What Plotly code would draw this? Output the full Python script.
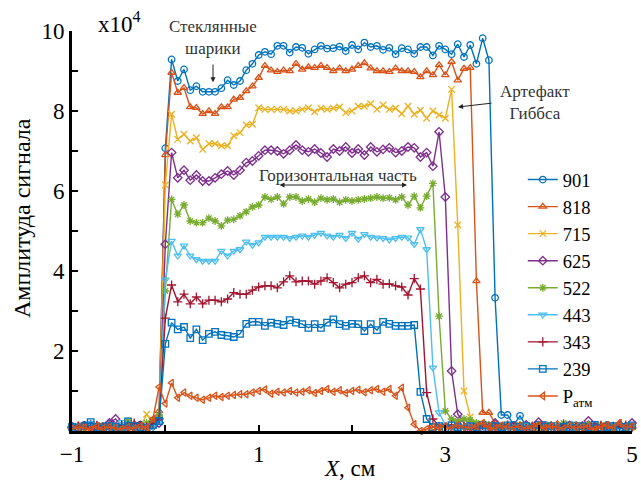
import plotly.graph_objects as go

# sample positions along X, cm (step 1/15 cm)
x_cm = [
    -1.000, -0.933, -0.867, -0.800, -0.733, -0.667, -0.600, -0.533, -0.467, -0.400, -0.333, -0.267, -0.200, -0.133, -0.067,
    0.000, 0.067, 0.133, 0.200, 0.267, 0.333, 0.400, 0.467, 0.533, 0.600, 0.667, 0.733, 0.800, 0.867, 0.933,
    1.000, 1.067, 1.133, 1.200, 1.267, 1.333, 1.400, 1.467, 1.533, 1.600, 1.667, 1.733, 1.800, 1.867, 1.933,
    2.000, 2.067, 2.133, 2.200, 2.267, 2.333, 2.400, 2.467, 2.533, 2.600, 2.667, 2.733, 2.800, 2.867, 2.933,
    3.000, 3.067, 3.133, 3.200, 3.267, 3.333, 3.400, 3.467, 3.533, 3.600, 3.667, 3.733, 3.800, 3.867, 3.933,
    4.000, 4.067, 4.133, 4.200, 4.267, 4.333, 4.400, 4.467, 4.533, 4.600, 4.667, 4.733, 4.800, 4.867, 4.933,
    5.000,
]

# signal amplitude, units of 1e4
s901 = [0.12, 0.08, 0.15, 0.1, 0.05, 0.12, 0.18, 0.1, 0.08, 0.14, 0.1, 0.16, 0.12, 0.2, 0.35,
        7.07,
        9.29, 8.75, 9.04, 8.52, 8.62, 8.48, 8.48, 8.48, 8.57, 8.77, 8.65, 8.75, 9.02, 9.18, 9.4, 9.48,
        9.42, 9.63, 9.63, 9.46, 9.6, 9.58, 9.43,
        9.54, 9.63, 9.56, 9.57, 9.61, 9.5, 9.65, 9.54, 9.71, 9.6, 9.63, 9.53, 9.58, 9.42, 9.57, 9.54,
        9.43, 9.6, 9.6, 9.39, 9.63, 9.54, 9.42, 9.67, 9.35, 9.65, 9.18, 9.82, 9.27,
        3.33, 0.4, 0.4, 0.15, 0.38,
        0.12, 0.08, 0.1, 0.15, 0.06, 0.12, 0.1, 0.08, 0.14, 0.1, 0.05, 0.12, 0.09, 0.15, 0.1, 0.07, 0.12, 0.1]
s818 = [0.1, 0.14, 0.08, 0.12, 0.06, 0.1, 0.15, 0.08, 0.12, 0.1, 0.18, 0.12, 0.15, 0.25, 0.5,
        6.9,
        8.96, 8.46, 8.58, 8.1, 8.08, 7.93, 8.0, 7.93, 8.1, 8.1, 8.29, 8.33, 8.5, 8.62, 8.83, 9.13,
        9.02, 8.98, 9.02, 9.0, 9.18, 9.04, 9.1,
        9.08, 9.13, 9.08, 9.0, 9.07, 9.0, 9.04, 9.13, 9.2, 9.07, 9.0, 9.0, 8.98, 9.07, 9.0, 9.0,
        8.98, 8.85, 9.0, 8.9, 9.15, 8.9, 9.23, 8.77, 9.06, 9.08,
        3.75, 0.46, 0.46, 0.2,
        0.1, 0.15, 0.08, 0.12, 0.1, 0.14, 0.06, 0.1, 0.12, 0.18, 0.08, 0.1, 0.14, 0.1, 0.06, 0.12,
        0.15, 0.08, 0.1, 0.2, 0.12, 0.08]
s715 = [0.08, 0.12, 0.1, 0.15, 0.1, 0.06, 0.12, 0.1, 0.14, 0.08, 0.12, 0.1, 0.42, 0.2, 0.3,
        6.15,
        7.92, 7.29, 7.42, 7.25, 7.33, 7.04, 7.18, 7.18, 7.13, 7.13, 7.38, 7.46, 7.65, 7.67, 8.08, 8.04,
        8.04, 8.04, 8.04, 8.0, 8.0, 8.04, 8.08,
        7.98, 8.07, 8.04, 8.07, 8.1, 7.96, 8.0, 8.12, 8.12, 8.18, 8.04, 8.15, 8.04, 8.07, 7.93, 8.12,
        7.92, 8.02, 7.82, 8.0, 7.9, 7.82, 8.54,
        5.15, 1.0, 0.35,
        0.12, 0.1, 0.15, 0.08, 0.12, 0.1, 0.06, 0.14, 0.1, 0.12, 0.08, 0.15, 0.1, 0.12, 0.06, 0.1,
        0.14, 0.08, 0.12, 0.1, 0.15, 0.08, 0.1, 0.12, 0.06, 0.1]
s625 = [0.1, 0.06, 0.12, 0.15, 0.1, 0.08, 0.2, 0.3, 0.12, 0.1, 0.08, 0.14, 0.1, 0.12, 0.2,
        4.67,
        6.96, 6.33, 6.52, 6.27, 6.4, 6.25, 6.25, 6.33, 6.42, 6.5, 6.4, 6.52, 6.71, 6.75, 6.88, 7.02,
        7.02, 7.0, 6.93, 7.02, 7.15,
        7.02, 6.98, 7.05, 6.95, 6.85, 7.05, 7.0, 7.1, 6.95, 7.05, 6.9, 7.1, 6.98,
        7.04, 7.08, 6.96, 7.0, 7.1, 7.08, 6.85, 6.96, 6.62, 7.48, 5.85, 1.5, 0.42,
        0.2, 0.1, 0.15, 0.08, 0.12, 0.2, 0.1, 0.06, 0.12, 0.1, 0.15, 0.08, 0.22, 0.1, 0.12, 0.06,
        0.1, 0.14, 0.08, 0.12, 0.25, 0.1, 0.06, 0.12, 0.1, 0.15, 0.08, 0.2]
s522 = [0.06, 0.1, 0.08, 0.12, 0.15, 0.1, 0.08, 0.12, 0.1, 0.25, 0.14, 0.1, 0.2, 0.28, 0.4,
        3.5,
        5.79, 5.42, 5.65, 5.25, 5.21, 5.21, 5.32, 5.25, 5.13, 5.27, 5.29, 5.38, 5.48, 5.6, 5.65, 5.85,
        5.79, 5.85, 5.68, 5.85, 5.85,
        5.75, 5.8, 5.72, 5.82, 5.78, 5.8, 5.72, 5.78, 5.75, 5.78, 5.8, 5.82, 5.85, 5.82, 5.83, 5.78, 5.85,
        5.65, 5.87, 5.58, 5.87, 6.19, 2.87, 0.5, 0.3,
        0.25, 0.3, 0.28, 0.2, 0.12, 0.15, 0.1, 0.08, 0.12, 0.1, 0.15, 0.06, 0.1, 0.12, 0.08, 0.14,
        0.1, 0.2, 0.12, 0.08, 0.1, 0.15, 0.06, 0.12, 0.1, 0.08, 0.14, 0.1, 0.12]
s443 = [0.1, 0.14, 0.08, 0.2, 0.12, 0.1, 0.06, 0.15, 0.22, 0.1, 0.12, 0.08, 0.14, 0.1, 0.25,
        3.78,
        4.75, 4.38, 4.63, 4.38, 4.29, 4.25, 4.25, 4.25, 4.5, 4.38, 4.5, 4.54, 4.73, 4.65, 4.71, 4.85,
        4.85, 4.85, 4.85, 4.82, 4.85,
        4.88, 4.85, 4.9, 4.95, 4.88, 4.85, 4.9, 4.82, 4.95, 4.8, 4.92, 4.85, 4.83, 4.82, 4.78, 4.82, 4.85,
        4.83, 4.67, 5.04, 4.54, 1.58, 0.46,
        0.15, 0.1, 0.12, 0.08, 0.14, 0.1, 0.06, 0.12, 0.1, 0.15, 0.08, 0.1, 0.12, 0.14, 0.06, 0.1,
        0.12, 0.08, 0.15, 0.1, 0.12, 0.06, 0.1, 0.14, 0.08, 0.12, 0.1, 0.15, 0.08, 0.12, 0.1]
s343 = [0.08, 0.12, 0.1, 0.06, 0.14, 0.1, 0.12, 0.08, 0.15, 0.1, 0.2, 0.12, 0.1, 0.18, 0.3,
        2.82,
        3.65, 3.23, 3.42, 3.18, 3.35, 3.18, 3.27, 3.27, 3.23, 3.3, 3.46, 3.42, 3.42, 3.52, 3.6, 3.63,
        3.63, 3.58, 3.73, 3.88, 3.73,
        3.75, 3.75, 3.67, 3.75, 3.83, 3.71, 3.58, 3.67, 3.71, 3.83, 3.88, 3.71, 3.79, 3.67, 3.68, 3.63,
        3.6, 3.4, 3.81, 3.55,
        0.96, 0.3,
        0.12, 0.1, 0.15, 0.08, 0.12, 0.1, 0.06, 0.14, 0.1, 0.12, 0.08, 0.15, 0.1, 0.12, 0.06, 0.1,
        0.14, 0.08, 0.12, 0.1, 0.15, 0.08, 0.1, 0.12, 0.06, 0.1, 0.14, 0.08, 0.12, 0.1, 0.15, 0.08]
s239 = [0.1, 0.08, 0.12, 0.22, 0.1, 0.06, 0.12, 0.1, 0.08, 0.24, 0.12, 0.1, 0.08, 0.15, 0.25,
        2.18,
        2.71, 2.54, 2.6, 2.32, 2.54, 2.27, 2.43, 2.48, 2.4, 2.38, 2.35, 2.43, 2.68, 2.73, 2.73, 2.63,
        2.71, 2.68, 2.65, 2.77, 2.71,
        2.67, 2.58, 2.67, 2.58, 2.71, 2.79, 2.67, 2.63, 2.68, 2.67, 2.5, 2.67, 2.52, 2.73, 2.68, 2.63,
        2.63, 2.63, 2.65,
        0.98, 0.3,
        0.1, 0.12, 0.08, 0.14, 0.1, 0.06, 0.12, 0.1, 0.15, 0.08, 0.12, 0.1, 0.14, 0.06, 0.1, 0.12,
        0.08, 0.15, 0.1, 0.12, 0.06, 0.1, 0.14, 0.08, 0.12, 0.1, 0.15, 0.08, 0.1, 0.12, 0.06, 0.1, 0.14]
s_atm = [0.05, 0.1, 0.08, 0.04, 0.12, 0.06, 0.1, 0.08, 0.05, 0.1, 0.06, 0.12, 0.08, 0.3, 1.1,
         0.69,
         1.2, 0.83, 0.96, 0.88, 0.83, 0.78, 0.83, 0.88, 0.85, 0.88, 0.9, 0.92, 0.92, 0.96, 1.0, 1.04,
         0.93, 0.98, 0.96, 1.0, 0.96,
         0.98, 1.02, 0.95, 1.0, 1.05, 0.98, 1.02, 0.95, 1.0, 1.03, 0.97, 1.02, 1.05, 0.98, 1.05, 0.88, 1.08,
         0.58, 0.17, 0.0,
         0.05, 0.1, 0.08, 0.12, 0.06, 0.15, 0.1, 0.08, 0.12, 0.2, 0.1, 0.06, 0.14, 0.1, 0.08, 0.12,
         0.05, 0.1, 0.15, 0.08, 0.12, 0.1, 0.06, 0.14, 0.08, 0.1, 0.12, 0.05, 0.1, 0.15, 0.08, 0.2, 0.1, 0.12]

series_names = ["901", "818", "715", "625", "522", "443", "343", "239", "P<sub>атм</sub>"]
series_values = [s901, s818, s715, s625, s522, s443, s343, s239, s_atm]
colors = ["#0072BD", "#D95319", "#EDB120", "#7E2F8E", "#77AC30", "#4DBEEE", "#A2142F", "#0072BD", "#D95319"]
symbols = ["circle-open", "triangle-up-open", "x-thin-open", "diamond-open", "asterisk-open",
           "triangle-down-open", "cross-thin-open", "square-open", "triangle-left-open"]

SERIF = '"Liberation Serif", "Times New Roman", Times, "DejaVu Serif", serif'

fig = go.Figure()
for name, vals, col, sym in zip(series_names, series_values, colors, symbols):
    fig.add_trace(go.Scatter(
        x=x_cm, y=vals, name=name, mode="lines+markers",
        line=dict(color=col, width=1.4),
        marker=dict(symbol=sym, size=6.5, color=col, line=dict(width=1.3, color=col)),
        cliponaxis=False,
    ))

fig.update_layout(
    width=641, height=486,
    margin=dict(l=72, r=9, t=31, b=55),
    paper_bgcolor="white", plot_bgcolor="white",
    font=dict(family=SERIF, size=22, color="black"),
    showlegend=True,
    legend=dict(x=0.805, y=0.675, xanchor="left", yanchor="top",
                font=dict(family=SERIF, size=18.5, color="black"),
                bgcolor="rgba(0,0,0,0)", itemwidth=30, tracegroupgap=0),
    xaxis=dict(range=[-1, 5], showgrid=False, zeroline=False, automargin=False,
               showline=True, linecolor="black", linewidth=3,
               tickmode="array", tickvals=[-1, 1, 3, 5],
               ticks="inside", ticklen=6, tickwidth=2, tickcolor="black",
               minor=dict(tickmode="array", tickvals=[0, 2, 4], ticks="inside",
                          ticklen=6, tickwidth=2, tickcolor="black"),
               tickfont=dict(family=SERIF, size=23, color="black")),
    yaxis=dict(range=[0, 10], showgrid=False, zeroline=False, automargin=False,
               showline=True, linecolor="black", linewidth=3,
               tickmode="array", tickvals=[2, 4, 6, 8, 10],
               ticks="inside", ticklen=6, tickwidth=2, tickcolor="black",
               minor=dict(tickmode="array", tickvals=[1, 3, 5, 7, 9], ticks="inside",
                          ticklen=6, tickwidth=2, tickcolor="black"),
               tickfont=dict(family=SERIF, size=23, color="black")),
)

ann_font = dict(family=SERIF, size=17, color="#333333")
fig.add_annotation(xref="paper", yref="paper", x=-0.0893, y=0.5325, xanchor="center", yanchor="middle",
                   text="Амплитуда сигнала", textangle=-90, showarrow=False,
                   font=dict(family=SERIF, size=24, color="black"))
fig.add_annotation(xref="paper", yref="paper", x=0.496, y=-0.0925, xanchor="center", yanchor="middle",
                   text="<i>X</i>, см", showarrow=False, font=dict(family=SERIF, size=23, color="black"))
fig.add_annotation(xref="paper", yref="paper", x=0.043, y=1.022, xanchor="left", yanchor="middle",
                   text="x10<sup>4</sup>", showarrow=False, font=dict(family=SERIF, size=23, color="black"))

fig.add_annotation(x=0.511, y=9.85, text="Стеклянные<br>шарики", showarrow=False, font=ann_font)
fig.add_annotation(x=0.511, y=8.72, ax=0.511, ay=9.2, axref="x", ayref="y", text="",
                   showarrow=True, arrowhead=2, arrowsize=1, arrowwidth=1, arrowcolor="#222222")
fig.add_annotation(x=3.96, y=8.22, text="Артефакт<br>Гиббса", showarrow=False, font=ann_font)
fig.add_annotation(x=3.136, y=8.1, ax=3.511, ay=8.2, axref="x", ayref="y", text="",
                   showarrow=True, arrowhead=2, arrowsize=1, arrowwidth=1, arrowcolor="#222222")
fig.add_annotation(x=1.85, y=6.4, text="Горизонтальная часть", showarrow=False, font=ann_font)
fig.add_annotation(x=2.589, y=6.15, ax=1.207, ay=6.15, axref="x", ayref="y", text="",
                   showarrow=True, arrowhead=2, startarrowhead=2, arrowside="end+start",
                   arrowsize=1, arrowwidth=1, arrowcolor="#222222")

fig.write_html("out.html", config={"displayModeBar": False},
               post_script="document.body.style.margin='0';")
